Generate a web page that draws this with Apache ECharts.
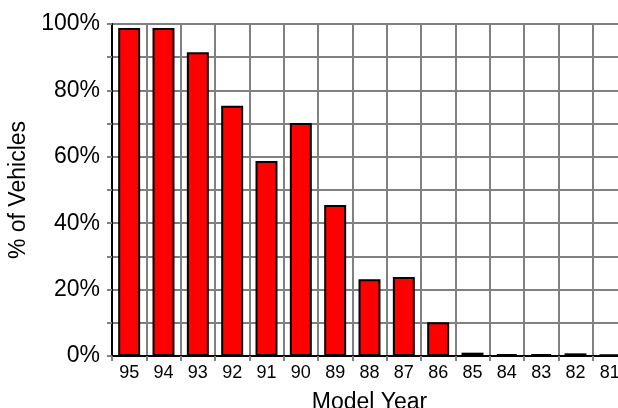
<!DOCTYPE html>
<html>
<head>
<meta charset="utf-8">
<script src="https://cdn.jsdelivr.net/npm/echarts@6/dist/echarts.min.js"></script>
<style>
  html, body { margin: 0; padding: 0; background: #fff; }
  #chart { width: 618px; height: 408px; }
</style>
</head>
<body>
<div id="chart"></div>
<script>
// model years on the x axis
var modelYears = ['95', '94', '93', '92', '91', '90', '89', '88', '87', '86', '85', '84', '83', '82', '81']
// share of vehicles (%)
var pctVehicles = [98.8, 98.8, 91.5, 75.4, 58.7, 70.2, 45.5, 23.1, 23.8, 10.2, 1.0, 0.6, 0.6, 0.8, 0.4]

var myChart = echarts.init(document.getElementById('chart'))
var fontFam = '"Liberation Sans", Arial, sans-serif'

var option = {
  animation: false,
  grid: {
    left: 112,
    top: 24,
    right: -9,
    bottom: 52,
    containLabel: false,
    outerBoundsMode: 'none',
    show: true,
    borderColor: '#000',
    borderWidth: 2
  },
  xAxis: {
    type: 'category',
    data: modelYears,
    name: 'Model Year',
    nameLocation: 'middle',
    nameGap: 35,
    nameTextStyle: { fontFamily: fontFam, fontSize: 23, color: '#000' },
    axisLine: { lineStyle: { color: '#000', width: 2 } },
    axisTick: { show: true, interval: 0, length: 5, lineStyle: { color: '#808080', width: 2 } },
    axisLabel: { interval: 0, margin: 8, fontFamily: fontFam, fontSize: 18, color: '#000' },
    splitLine: { show: true, interval: 0, lineStyle: { color: '#808080', width: 2 } }
  },
  yAxis: {
    type: 'value',
    min: 0,
    max: 100,
    interval: 20,
    name: '% of Vehicles',
    nameLocation: 'middle',
    nameGap: 78,
    nameTextStyle: { fontFamily: fontFam, fontSize: 23, color: '#000' },
    axisLine: { show: true, lineStyle: { color: '#000', width: 2 } },
    axisTick: { show: true, length: 5, lineStyle: { color: '#808080', width: 2 } },
    minorTick: { show: true, splitNumber: 2, length: 5, lineStyle: { color: '#808080', width: 2 } },
    axisLabel: {
      margin: 12,
      fontFamily: fontFam,
      fontSize: 23,
      color: '#000',
      formatter: function (v) { return v + '%' }
    },
    splitLine: { show: true, lineStyle: { color: '#808080', width: 2 } },
    minorSplitLine: { show: true, lineStyle: { color: '#808080', width: 2 } }
  },
  series: [
    {
      type: 'bar',
      data: pctVehicles,
      barCategoryGap: '36%',
      itemStyle: { color: '#ff0000', borderColor: '#000', borderWidth: 2 }
    }
  ]
}

myChart.setOption(option)
</script>
</body>
</html>
